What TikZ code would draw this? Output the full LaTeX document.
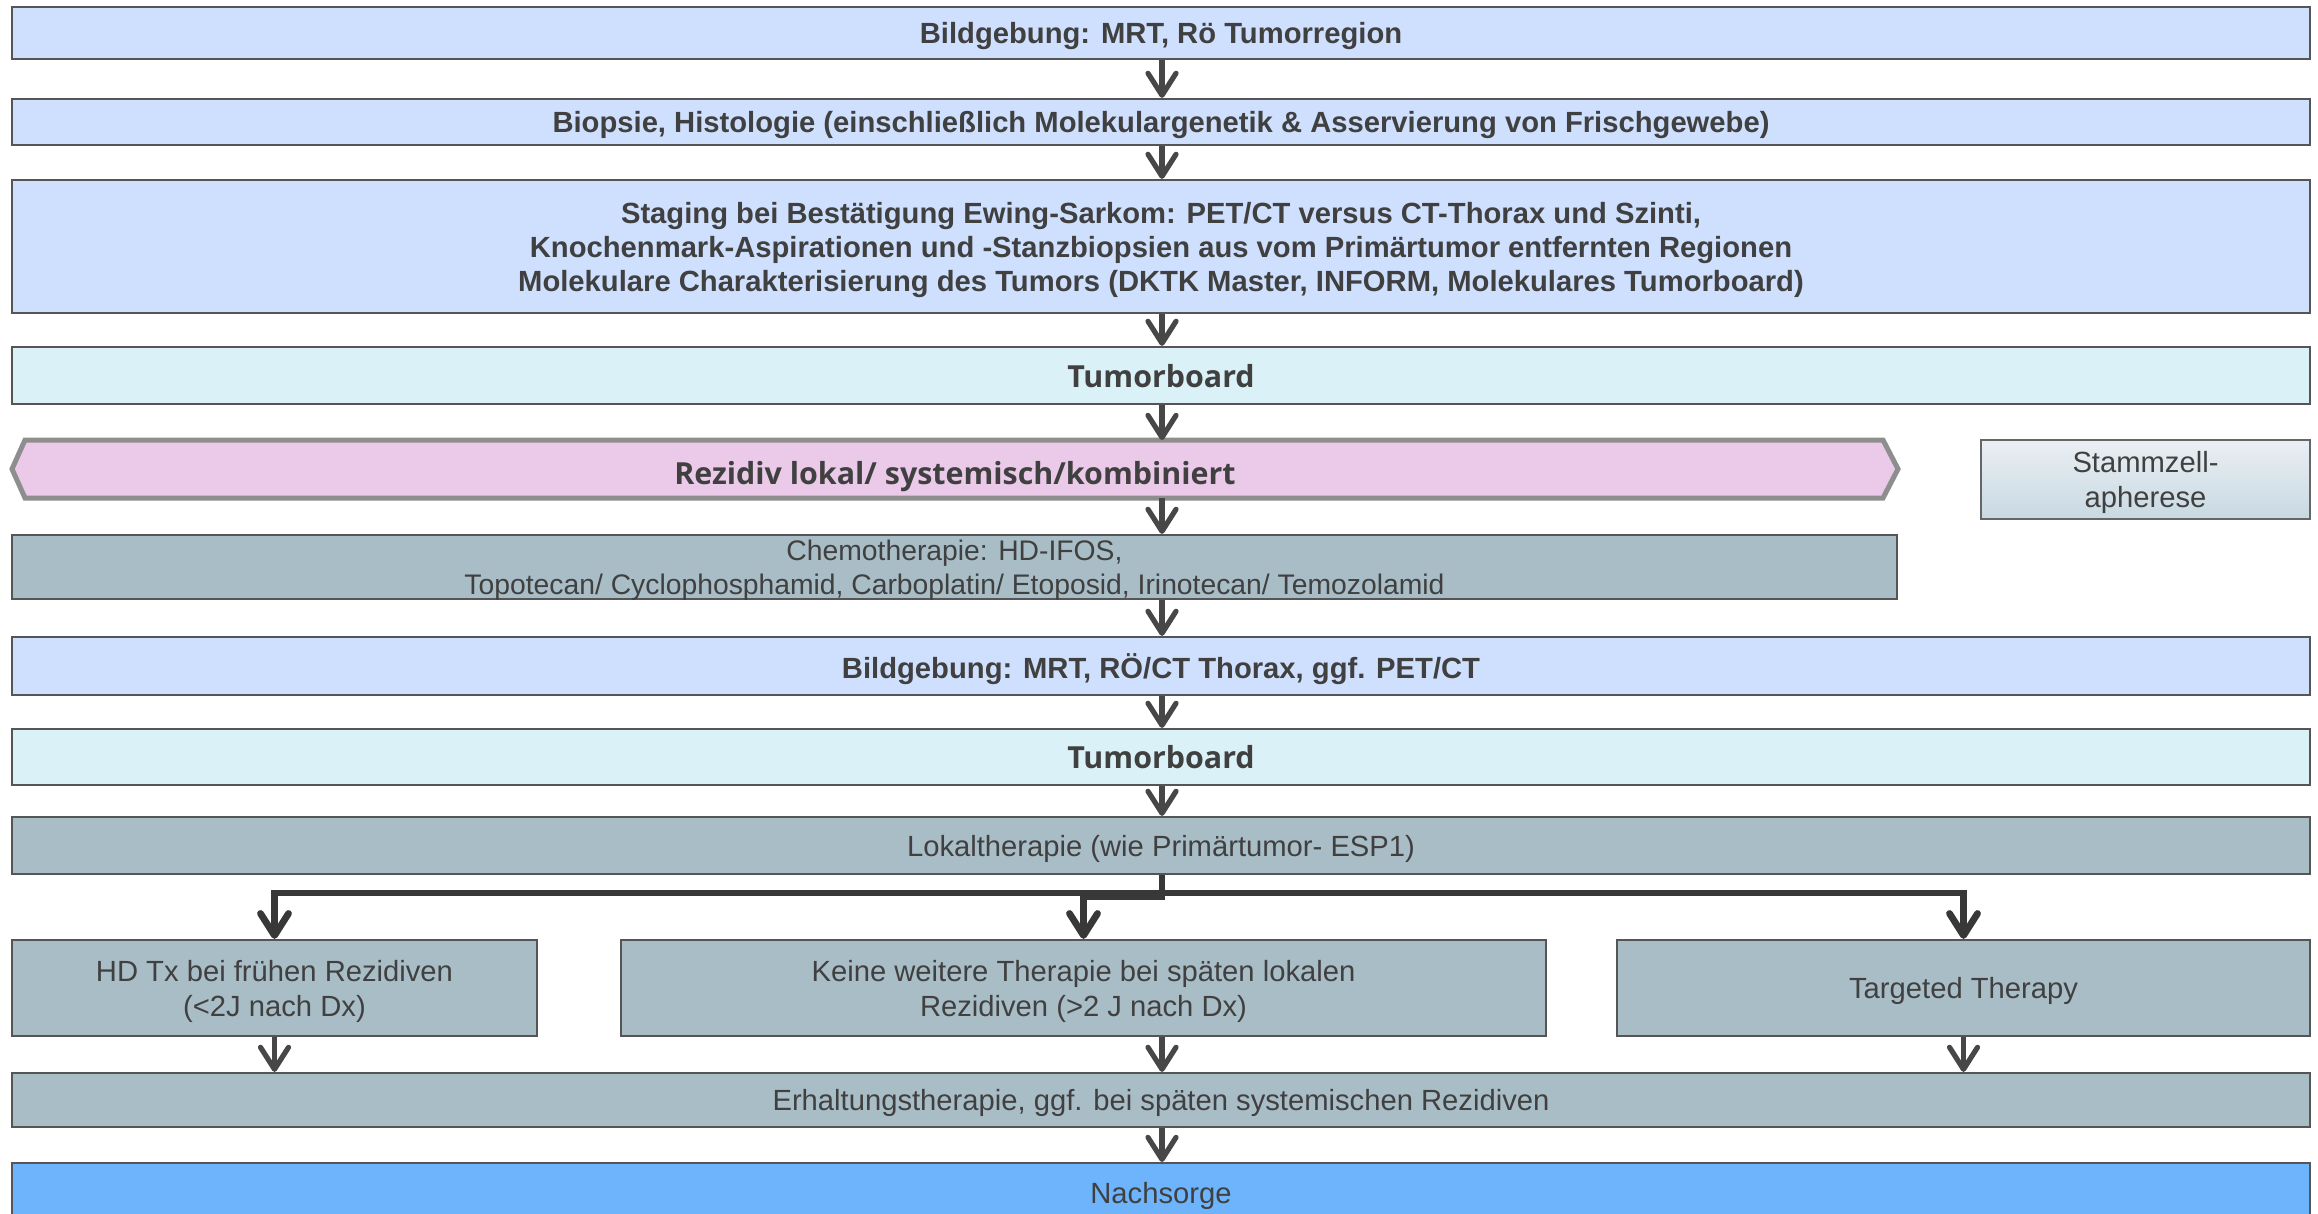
\documentclass[tikz,border=0pt]{standalone}
\usepackage{fontspec}
\setmainfont{Liberation Sans}
\newfontfamily\osb{Open Sans}
\usetikzlibrary{arrows.meta,shapes.geometric,calc}
\definecolor{txt}{HTML}{404040}
\definecolor{bord}{HTML}{555555}
\definecolor{lblue}{HTML}{CFDFFE}
\definecolor{lcyan}{HTML}{DAF2F7}
\definecolor{pinkf}{HTML}{EBC9E9}
\definecolor{pinkb}{HTML}{8E8E8E}
\definecolor{grayb}{HTML}{A9BDC7}
\definecolor{nach}{HTML}{6DB4FD}
\definecolor{stmtop}{HTML}{EAEFF3}
\definecolor{stmbot}{HTML}{C8D9E2}
\definecolor{arrc}{HTML}{474747}
\definecolor{splc}{HTML}{383838}
\tikzset{
  x=0.5pt, y=-0.5pt,
  basebox/.style={draw=bord, line width=1.1pt, text=txt, align=center, inner sep=0pt, text depth=0pt, font=\fontsize{14.6}{17}\selectfont},
  bluebox/.style={basebox, fill=lblue, font=\fontsize{14.6}{17}\selectfont\bfseries},
  tbbox/.style={basebox, fill=lcyan, font=\fontsize{15.2}{18}\selectfont\osb\bfseries},
  graybox/.style={basebox, fill=grayb},
  arr/.style={draw=arrc, line width=2.6pt, -{Straight Barb[round,length=11pt,width=14pt]}},
  splarr/.style={draw=splc, line width=3.4pt, line join=miter, -{Straight Barb[round,length=11pt,width=14pt]}},
}
\begin{document}
\begin{tikzpicture}
\useasboundingbox (0,0) rectangle (2318,1214);
\clip (0,0) rectangle (2318,1214);
\coordinate (ax) at (1162,0);
\coordinate (bar) at (0,893);
\coordinate (bar2) at (0,897);

\node[bluebox, minimum width=1149pt, minimum height=26pt] (b1) at (1161,33) {Bildgebung: MRT, Rö Tumorregion};
\node[bluebox, minimum width=1149pt, minimum height=23pt] (b2) at (1161,122) {Biopsie, Histologie (einschließlich Molekulargenetik \& Asservierung von Frischgewebe)};
\node[bluebox, minimum width=1149pt, minimum height=66.5pt] (b3) at (1161,246.5) {Staging bei Bestätigung Ewing-Sarkom: PET/CT versus CT-Thorax und Szinti,\\Knochenmark-Aspirationen und -Stanzbiopsien aus vom Primärtumor entfernten Regionen\\Molekulare Charakterisierung des Tumors (DKTK Master, INFORM, Molekulares Tumorboard)};
\node[tbbox, minimum width=1149pt, minimum height=28.5pt] (tb1) at (1161,375.5) {Tumorboard};

% hexagon
\draw[draw=pinkb, fill=pinkf, line width=2.5pt, line join=miter] (12,469) -- (25,440) -- (1883,440) -- (1898,469) -- (1883,498) -- (25,498) -- cycle;
\node[text=txt, font=\fontsize{15.2}{18}\selectfont\osb\bfseries, minimum width=943pt, minimum height=29pt, inner sep=0pt, text depth=0pt] (rez) at (955,473) {Rezidiv lokal/ systemisch/kombiniert};

\node[basebox, draw=bord!90, top color=stmtop, bottom color=stmbot, minimum width=164.5pt, minimum height=39.5pt, font=\fontsize{14.6}{17.5}\selectfont] (stm) at (2145.5,479.5) {Stammzell-\\apherese};

\node[graybox, minimum width=942.5pt, minimum height=32pt, font=\fontsize{14.15}{17}\selectfont] (chemo) at (954.5,567) {Chemotherapie: HD-IFOS,\\Topotecan/ Cyclophosphamid, Carboplatin/ Etoposid, Irinotecan/ Temozolamid};
\node[bluebox, minimum width=1149pt, minimum height=29pt] (b4) at (1161,666) {Bildgebung: MRT, RÖ/CT Thorax, ggf. PET/CT};
\node[tbbox, minimum width=1149pt, minimum height=28pt] (tb2) at (1161,757) {Tumorboard};
\node[graybox, minimum width=1149pt, minimum height=28.5pt] (lok) at (1161,845.5) {Lokaltherapie (wie Primärtumor- ESP1)};

\node[graybox, minimum width=262.5pt, minimum height=48pt, font=\fontsize{14.6}{17.5}\selectfont] (hd) at (274.5,988) {HD Tx bei frühen Rezidiven\\(<2J nach Dx)};
\node[graybox, minimum width=462.5pt, minimum height=48pt, font=\fontsize{14.6}{17.5}\selectfont] (keine) at (1083.5,988) {Keine weitere Therapie bei späten lokalen\\Rezidiven (>2 J nach Dx)};
\node[graybox, minimum width=346.5pt, minimum height=48pt] (targ) at (1963.5,988) {Targeted Therapy};

\node[graybox, minimum width=1149pt, minimum height=27pt] (erh) at (1161,1100) {Erhaltungstherapie, ggf. bei späten systemischen Rezidiven};
\node[basebox, fill=nach, minimum width=1149pt, minimum height=39pt, anchor=north] (nachs) at (1161,1162) {};
\node[text=txt, font=\fontsize{14.6}{17}\selectfont, inner sep=0pt, text depth=0pt] (nachst) at (1161,1193) {Nachsorge};

% arrows
\draw[arr] (b1.south -| ax) -- (b2.north -| ax);
\draw[arr] (b2.south -| ax) -- (b3.north -| ax);
\draw[arr] (b3.south -| ax) -- (tb1.north -| ax);
\draw[arr] (tb1.south -| ax) -- (ax |- 440,440);
\draw[arr] (ax |- 0,498) -- (chemo.north -| ax);
\draw[arr] (chemo.south -| ax) -- (b4.north -| ax);
\draw[arr] (b4.south -| ax) -- (tb2.north -| ax);
\draw[arr] (tb2.south -| ax) -- (lok.north -| ax);

\draw[splarr] (lok.south -| ax) |- (bar -| hd.north) -- (hd.north);
\draw[splarr] (lok.south -| ax) |- (bar -| targ.north) -- (targ.north);
\draw[splarr] (lok.south -| ax) |- (bar2 -| keine.north) -- (keine.north);

\draw[arr] (hd.south) -- (erh.north -| hd.south);
\draw[arr] (keine.south -| ax) -- (erh.north -| ax);
\draw[arr] (targ.south) -- (erh.north -| targ.south);
\draw[arr] (erh.south -| ax) -- (nachs.north -| ax);
\end{tikzpicture}
\end{document}
